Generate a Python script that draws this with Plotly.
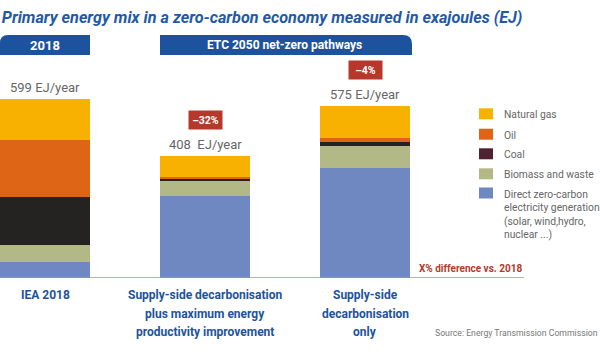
import plotly.graph_objects as go

# ---------------- data ----------------
categories = [["IEA 2018"],
              ["Supply-side decarbonisation", "plus maximum energy", "productivity improvement"],
              ["Supply-side", "decarbonisation", "only"]]
series_names = ["Direct zero-carbon<br>electricity generation<br>(solar, wind,hydro,<br>nuclear ...)",
                "Biomass and waste", "Coal", "Oil", "Natural gas"]
electricity = [54, 275, 369]
biomass = [57, 50, 72]
coal = [161, 8, 13]
oil = [190, 5, 15]
natural_gas = [137, 70, 106]
totals_labels = ["599 EJ/year", "408  EJ/year", "575 EJ/year"]
totals = [599, 408, 575]
diff_labels = [None, "\u201332%", "\u20134%"]

# ---------------- geometry helpers ----------------
W, H = 600, 359
PT, PB = 60, 278          # plot area top / baseline in px
K = 0.2988                # px per EJ
UNIT = 160.0              # px per category
C0 = 45.0                 # px center of first category
XR = [-C0 / UNIT, (W - C0) / UNIT]
YR = [0, (PB - PT) / K]

def px_x(px):
    return (px - C0) / UNIT

def px_yp(py):  # pixel y -> paper y
    return (PB - py) / (PB - PT)

FONT = "Roboto, sans-serif"
BLUE = "#1D539E"
RED = "#B5382A"
GREY = "#666666"

bar_colors = ["#6F88C2", "#B2B987", "#252222", "#DE6516", "#F8B100"]
legend_colors = ["#6F88C2", "#B2B987", "#4E2231", "#DE6516", "#F8B100"]
values = [electricity, biomass, coal, oil, natural_gas]

x = [0, 1, 2]
fig = go.Figure()
for name, vals, col in zip(series_names, values, bar_colors):
    fig.add_trace(go.Bar(x=x, y=vals, name=name.replace("<br>", " "),
                         marker=dict(color=col, line=dict(width=0)),
                         width=90 / UNIT, showlegend=False, hoverinfo="y+name"))

annotations = []
shapes = []
# totals
for i, (lab, tot) in enumerate(zip(totals_labels, totals)):
    annotations.append(dict(x=x[i], y=tot, xref="x", yref="y", text=lab, showarrow=False,
                            yanchor="middle", yshift=12,
                            font=dict(family=FONT, size=13, color=GREY)))
# differences
for i, (lab, tot) in enumerate(zip(diff_labels, totals)):
    if lab:
        annotations.append(dict(x=x[i], y=tot, xref="x", yref="y", text="<b>" + lab + "</b>",
                                showarrow=False, yanchor="middle", yshift=36,
                                bgcolor=RED, borderpad=2.5, width=28,
                                font=dict(family=FONT, size=10.5, color="white")))
# category labels (one annotation per line)
for i, lines in enumerate(categories):
    for j, line in enumerate(lines):
        annotations.append(dict(x=x[i], y=px_yp(295 + 18.5 * j), xref="x", yref="paper",
                                text="<b>" + line + "</b>", showarrow=False, yanchor="middle",
                                font=dict(family=FONT, size=12, color=BLUE)))
# banner texts
annotations.append(dict(x=px_x(45), y=px_yp(45), xref="x", yref="paper", text="<b>2018</b>",
                        showarrow=False, yanchor="middle",
                        font=dict(family=FONT, size=13, color="white")))
annotations.append(dict(x=px_x(284), y=px_yp(45), xref="x", yref="paper",
                        text="<b>ETC 2050 net-zero pathways</b>", yanchor="middle",
                        showarrow=False, font=dict(family=FONT, size=12, color="white")))
# X% note
annotations.append(dict(x=px_x(524), y=px_yp(268), xref="x", yref="paper",
                        text="<b>X% difference vs. 2018</b>", xanchor="right", yanchor="middle",
                        showarrow=False, font=dict(family=FONT, size=10, color=RED)))
# source
annotations.append(dict(x=1, y=px_yp(333), xref="paper", yref="paper",
                        text="Source: Energy Transmission Commission", xanchor="right",
                        yanchor="middle",
                        showarrow=False, font=dict(family=FONT, size=8.7, color="#777777")))

# legend (natural gas on top)
leg_y = [193, 173.8, 153.8, 134.2, 113.8]
for name, col, cy in zip(series_names, legend_colors, leg_y):
    shapes.append(dict(type="rect", xref="x", yref="paper",
                       x0=px_x(479), x1=px_x(493), y0=px_yp(cy - 5.5), y1=px_yp(cy + 5.5),
                       fillcolor=col, line=dict(width=0)))
    annotations.append(dict(x=px_x(502), y=px_yp(cy - 7.5), xref="x", yref="paper",
                            text=name, showarrow=False, xanchor="left", yanchor="top",
                            align="left",
                            font=dict(family=FONT, size=10.3, color=GREY)))

def P(px, py):
    return f"{px_x(px)},{px_yp(py)}"

shapes += [
    # banner 1 (rounded top-left)
    dict(type="path", xref="x", yref="paper",
         path=f"M {P(0,55)} L {P(0,43)} Q {P(0,35)} {P(8,35)} L {P(90,35)} L {P(90,55)} Z",
         fillcolor=BLUE, line=dict(width=0)),
    # banner 2 (rounded top-right)
    dict(type="path", xref="x", yref="paper",
         path=f"M {P(160,55)} L {P(160,35)} L {P(403,35)} Q {P(412,35)} {P(412,44)} L {P(412,55)} Z",
         fillcolor=BLUE, line=dict(width=0)),
    # baseline
    dict(type="line", xref="x", yref="y", x0=XR[0], x1=px_x(524), y0=0, y1=0,
         line=dict(color="#8A9DCC", width=1.5)),
]

fig.update_layout(
    width=W, height=H,
    margin=dict(l=0, r=0, t=PT, b=H - PB),
    paper_bgcolor="white", plot_bgcolor="white",
    barmode="stack",
    title=dict(text="<b><i>Primary energy mix in a zero-carbon economy measured in exajoules (EJ)</i></b>",
               x=0.003, xanchor="left", y=1 - 17 / H, yanchor="middle",
               font=dict(family=FONT, size=16.2, color="#1F5AA6")),
    xaxis=dict(range=XR, showticklabels=False, automargin=False,
               showgrid=False, zeroline=False, showline=False, ticks="", fixedrange=True),
    yaxis=dict(range=YR, visible=False, fixedrange=True, automargin=False),
    annotations=annotations,
    shapes=shapes,
    showlegend=False,
)

fig.write_html("out.html", config={"displayModeBar": False},
               post_script="document.body.style.margin='0';document.body.style.overflow='hidden';")
